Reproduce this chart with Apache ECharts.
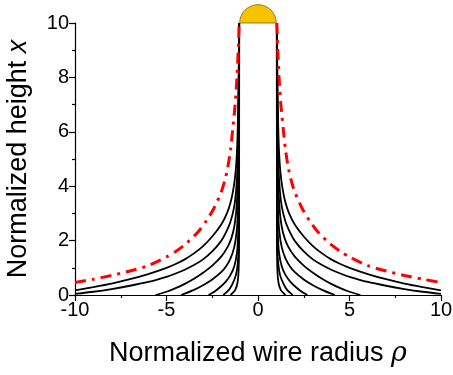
<!DOCTYPE html>
<html>
<head>
<meta charset="utf-8">
<script src="https://cdn.jsdelivr.net/npm/echarts@6/dist/echarts.min.js"></script>
<style>
  html, body { margin: 0; padding: 0; background: #fff; }
  #chart { width: 453px; height: 375px; }
</style>
</head>
<body>
<div id="chart"></div>
<script>
// right half of each field line as [rho, x]; left half is the mirror image
const redCurve = [[1.03, 10], [1.08, 9.0], [1.15, 8.0], [1.25, 7.0], [1.38, 6.1], [1.5, 5.35], [1.65, 4.7], [1.8, 4.25], [2.0, 3.8], [2.4, 3.2], [2.8, 2.75], [3.3, 2.3], [4.0, 1.85], [4.5, 1.6], [5.0, 1.4], [6.0, 1.08], [7.0, 0.88], [8.0, 0.72], [9.0, 0.58], [10, 0.46]]
const black1 = [[1.03, 10], [1.05, 8.5], [1.08, 7], [1.12, 5.8], [1.18, 4.9], [1.26, 4.3], [1.37, 3.8], [1.5, 3.4], [1.7, 3.0], [2.0, 2.6], [2.5, 2.15], [3.0, 1.8], [3.5, 1.53], [4.0, 1.31], [4.5, 1.14], [5.0, 1.0], [6.0, 0.77], [7.0, 0.58], [8.0, 0.42], [9.0, 0.29], [10, 0.17]]
const black2 = [[1.03, 10], [1.05, 8], [1.08, 6], [1.12, 4.7], [1.2, 3.8], [1.3, 3.25], [1.5, 2.7], [1.75, 2.3], [2.0, 2.0], [2.5, 1.6], [3.0, 1.31], [3.5, 1.1], [4.0, 0.93], [4.5, 0.79], [5.0, 0.67], [6.0, 0.48], [7.0, 0.34], [8.0, 0.22], [9.0, 0.12], [10, 0.04]]
const black3 = [[1.03, 10], [1.04, 8], [1.06, 6], [1.09, 4.6], [1.13, 3.7], [1.2, 3.0], [1.3, 2.5], [1.45, 2.1], [1.65, 1.78], [2.0, 1.42], [2.5, 1.08], [3.0, 0.82], [3.5, 0.6], [4.0, 0.41], [4.5, 0.25], [5.0, 0.12], [5.6, 0]]
const black4 = [[1.03, 10], [1.04, 6], [1.06, 4], [1.1, 3.0], [1.17, 2.3], [1.3, 1.75], [1.5, 1.35], [1.75, 1.05], [2.0, 0.85], [2.5, 0.57], [3.0, 0.36], [3.5, 0.19], [4.0, 0.05], [4.2, 0]]
const black5 = [[1.03, 10], [1.035, 6], [1.05, 3.5], [1.08, 2.3], [1.15, 1.55], [1.3, 1.05], [1.5, 0.74], [1.75, 0.5], [2.0, 0.33], [2.35, 0.14], [2.7, 0]]
const black6 = [[1.03, 10], [1.035, 4], [1.05, 2], [1.1, 1.2], [1.2, 0.75], [1.4, 0.4], [1.6, 0.18], [1.9, 0]]
const black7 = [[1.03, 10], [1.035, 2], [1.06, 0.9], [1.12, 0.45], [1.25, 0.18], [1.5, 0]]
const blackCurves = [black1, black2, black3, black4, black5, black6, black7]

const wireRadius = 1
const wireHeight = 10

const xTicks = { min: -10, max: 10, interval: 5 }
const yTicks = { min: 0, max: 10, interval: 2 }

const chart = echarts.init(document.getElementById('chart'))

const font = 'Liberation Sans, Arial, sans-serif'
const mirror = pts => pts.map(p => [-p[0], p[1]]).reverse()

const lineSeries = (pts, style) => ({
  type: 'line',
  data: pts,
  showSymbol: false,
  smooth: 0.25,
  lineStyle: style,
  z: 3,
  silent: true
})

const series = []

series.push({
  type: 'custom',
  data: [[wireRadius, wireHeight]],
  renderItem: (params, api) => {
    const tl = api.coord([-api.value(0), api.value(1)])
    const br = api.coord([api.value(0), 0])
    return {
      type: 'rect',
      shape: { x: tl[0], y: tl[1], width: br[0] - tl[0], height: br[1] - tl[1] },
      style: { fill: '#ffffff' }
    }
  },
  z: 1,
  silent: true
})

const blackStyle = { color: '#000', width: 1.8 }
blackCurves.forEach(c => {
  series.push(lineSeries(c, blackStyle))
  series.push(lineSeries(mirror(c), blackStyle))
})

const redStyle = { color: '#ff0000', width: 3, type: [11, 6, 3, 6] }
series.push(lineSeries(redCurve, redStyle))
series.push(lineSeries(mirror(redCurve), redStyle))

// gold cap on top of the wire
series.push({
  type: 'custom',
  data: [[0, wireHeight, wireRadius]],
  clip: false,
  renderItem: (params, api) => {
    const c = api.coord([api.value(0), api.value(1)])
    const r = api.size([api.value(2), 0])[0]
    return {
      type: 'sector',
      shape: { cx: c[0], cy: c[1], r0: 0, r: r, startAngle: -Math.PI, endAngle: 0, clockwise: true },
      style: { fill: '#f7c300', stroke: '#9a7a20', lineWidth: 1 }
    }
  },
  z: 5,
  silent: true
})

const option = {
  backgroundColor: '#fff',
  animation: false,
  grid: { left: 75, right: 12, top: 23, bottom: 80, outerBoundsMode: 'none' },
  xAxis: {
    type: 'value',
    min: xTicks.min,
    max: xTicks.max,
    interval: xTicks.interval,
    name: 'Normalized wire radius {i|ρ}',
    nameLocation: 'middle',
    nameGap: 45,
    nameTextStyle: {
      fontSize: 27, color: '#000', fontFamily: font,
      rich: { i: { fontSize: 27, fontStyle: 'italic', fontFamily: 'DejaVu Serif', color: '#000' } }
    },
    axisLine: { onZero: false, lineStyle: { color: '#000', width: 1.2 } },
    axisTick: { length: 6, lineStyle: { color: '#000', width: 1.2 } },
    minorTick: { show: true, splitNumber: 2, length: 3, lineStyle: { color: '#000', width: 1.2 } },
    splitLine: { show: false },
    axisLabel: { fontSize: 20, color: '#000', fontFamily: font, margin: 5 }
  },
  yAxis: {
    type: 'value',
    min: yTicks.min,
    max: yTicks.max,
    interval: yTicks.interval,
    name: 'Normalized height {i|x}',
    nameLocation: 'middle',
    nameGap: 43,
    nameRotate: 90,
    nameTextStyle: {
      fontSize: 27, color: '#000', fontFamily: font,
      rich: { i: { fontSize: 27, fontStyle: 'italic', fontFamily: font, color: '#000' } }
    },
    axisLine: { show: true, onZero: false, lineStyle: { color: '#000', width: 1.2 } },
    axisTick: { show: true, length: 6, lineStyle: { color: '#000', width: 1.2 } },
    minorTick: { show: true, splitNumber: 2, length: 3, lineStyle: { color: '#000', width: 1.2 } },
    splitLine: { show: false },
    axisLabel: { fontSize: 20, color: '#000', fontFamily: font, margin: 6 }
  },
  series: series
}

chart.setOption(option)
</script>
</body>
</html>
